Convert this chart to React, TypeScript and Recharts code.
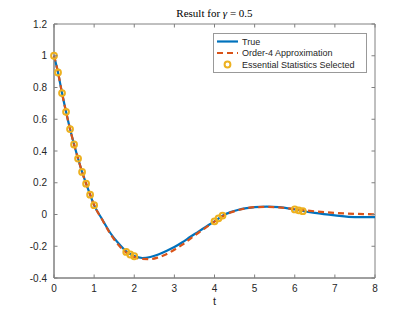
import React from 'react'
import { ComposedChart, Line, Scatter, XAxis, YAxis, ReferenceArea } from 'recharts'

// sample times and values
const trueT = [0, 0.1, 0.2, 0.3, 0.4, 0.5, 0.6, 0.7, 0.8, 0.9, 1.0, 1.2, 1.4, 1.6, 1.8, 2.0, 2.2, 2.4, 2.6, 2.8, 3.0, 3.2, 3.4, 3.6, 3.8, 4.0, 4.2, 4.4, 4.6, 4.8, 5.0, 5.3, 5.6, 6.0, 6.2, 6.5, 7.0, 7.5, 8.0]
const trueY = [1.0, 0.895, 0.765, 0.647, 0.538, 0.441, 0.352, 0.268, 0.194, 0.125, 0.059, -0.03, -0.115, -0.18, -0.232, -0.262, -0.274, -0.268, -0.252, -0.23, -0.205, -0.175, -0.14, -0.108, -0.075, -0.043, -0.008, 0.015, 0.03, 0.04, 0.047, 0.05, 0.047, 0.032, 0.022, 0.01, -0.005, -0.016, -0.017]
const approxY = [1.0, 0.895, 0.765, 0.647, 0.538, 0.441, 0.352, 0.268, 0.194, 0.125, 0.059, -0.032, -0.12, -0.19, -0.24, -0.268, -0.28, -0.281, -0.27, -0.25, -0.222, -0.19, -0.152, -0.115, -0.08, -0.045, -0.012, 0.012, 0.028, 0.04, 0.046, 0.048, 0.045, 0.034, 0.028, 0.02, 0.01, 0.004, 0.001]

const selT = [0, 0.1, 0.2, 0.3, 0.4, 0.5, 0.6, 0.7, 0.8, 0.9, 1.0, 1.8, 1.9, 2.0, 4.0, 4.1, 4.2, 6.0, 6.1, 6.2]
const selY = [1.0, 0.895, 0.765, 0.647, 0.538, 0.441, 0.352, 0.268, 0.194, 0.125, 0.059, -0.236, -0.252, -0.263, -0.043, -0.024, -0.007, 0.032, 0.026, 0.021]

const xTicks = [0, 1, 2, 3, 4, 5, 6, 7, 8]
const yTicks = [-0.4, -0.2, 0, 0.2, 0.4, 0.6, 0.8, 1, 1.2]

const trueData = trueT.map((t, i) => ({ t, y: trueY[i] }))
const approxData = trueT.map((t, i) => ({ t, y: approxY[i] }))
const selData = selT.map((t, i) => ({ t, y: selY[i] }))

const BLUE = '#0072BD'
const RED = '#D95319'
const GOLD = '#EDB120'
const AXIS = '#808080'
const LABEL = '#262626'
const SANS = '"Liberation Sans", Arial, sans-serif'
const TICK = 3.5

const fmt = (v: number) => String(Math.round(v * 10) / 10)

const BottomTick = (p: any) => (
  <g>
    <line x1={p.x} x2={p.x} y1={p.y} y2={p.y - TICK} stroke={AXIS} />
    <text x={p.x} y={p.y + 14} textAnchor="middle" fontSize={10} fontFamily={SANS} fill={LABEL}>
      {fmt(p.payload.value)}
    </text>
  </g>
)
const LeftTick = (p: any) => (
  <g>
    <line x1={p.x} x2={p.x + TICK} y1={p.y} y2={p.y} stroke={AXIS} />
    <text x={p.x - 7} y={p.y + 3.5} textAnchor="end" fontSize={10} fontFamily={SANS} fill={LABEL}>
      {fmt(p.payload.value)}
    </text>
  </g>
)
// mirrored ticks on the top and right edges, drawn from the same scale
const TopTick = (p: any) => <line x1={p.x} x2={p.x} y1={24} y2={24 + TICK} stroke={AXIS} />
const RightTick = (p: any) => <line x1={375} x2={375 - TICK} y1={p.y} y2={p.y} stroke={AXIS} />

const BottomMirror = (p: any) => (
  <g>
    <BottomTick {...p} />
    <TopTick {...p} />
  </g>
)
const LeftMirror = (p: any) => (
  <g>
    <LeftTick {...p} />
    <RightTick {...p} />
  </g>
)

const Ring = (p: any) => <circle cx={p.cx} cy={p.cy} r={2.9} fill="none" stroke={GOLD} strokeWidth={2} />

const legendRows = [
  { label: 'True', kind: 'solid' },
  { label: 'Order-4 Approximation', kind: 'dash' },
  { label: 'Essential Statistics Selected', kind: 'ring' },
]

const LegendBox = () => (
  <div
    style={{
      position: 'absolute',
      left: 213,
      top: 33,
      width: 152,
      height: 38,
      border: '1px solid #999',
      background: '#fff',
    }}
  >
    <svg width={152} height={38} style={{ position: 'absolute', left: 0, top: 0 }}>
      {legendRows.map((r, i) => {
        const y = 7.5 + i * 11.5
        return (
          <g key={r.label}>
            {r.kind === 'solid' && <line x1={3} x2={24} y1={y} y2={y} stroke={BLUE} strokeWidth={2.2} />}
            {r.kind === 'dash' && (
              <line x1={3} x2={24} y1={y} y2={y} stroke={RED} strokeWidth={2.2} strokeDasharray="6 4" />
            )}
            {r.kind === 'ring' && <circle cx={13.5} cy={y} r={2.9} fill="none" stroke={GOLD} strokeWidth={2} />}
            <text x={28} y={y + 3.2} fontSize={9} fontFamily={SANS} fill={LABEL}>
              {r.label}
            </text>
          </g>
        )
      })}
    </svg>
  </div>
)

export default function App() {
  return (
    <div style={{ position: 'absolute', left: 0, top: 0, width: 415, height: 312, background: '#fff' }}>
      <div
        style={{
          position: 'absolute',
          left: 54,
          width: 321,
          top: 7,
          textAlign: 'center',
          fontFamily: '"Liberation Serif", serif',
          fontSize: 11,
          fontWeight: 400,
          color: '#000',
        }}
      >
        Result for <i>γ</i> = 0.5
      </div>
      <ComposedChart width={415} height={312} margin={{ top: 24, right: 40, bottom: 14, left: 24 }}>
        <ReferenceArea x1={0} x2={8} y1={-0.4} y2={1.2} fill="none" stroke={AXIS} strokeWidth={1} ifOverflow="visible" />
        <XAxis
          dataKey="t"
          type="number"
          domain={[0, 8]}
          ticks={xTicks}
          interval={0}
          height={20}
          stroke={AXIS}
          tickSize={0}
          tickMargin={0}
          tick={<BottomMirror />}
        />
        <YAxis
          type="number"
          domain={[-0.4, 1.2]}
          ticks={yTicks}
          interval={0}
          width={30}
          stroke={AXIS}
          tickSize={0}
          tickMargin={0}
          tick={<LeftMirror />}
        />
        <Line
          data={trueData}
          dataKey="y"
          type="monotone"
          stroke={BLUE}
          strokeWidth={2.2}
          dot={false}
          isAnimationActive={false}
        />
        <Line
          data={approxData}
          dataKey="y"
          type="monotone"
          stroke={RED}
          strokeWidth={2.2}
          strokeDasharray="6 4"
          dot={false}
          isAnimationActive={false}
        />
        <Scatter data={selData} dataKey="y" shape={<Ring />} isAnimationActive={false} />
      </ComposedChart>
      <LegendBox />
      <div
        style={{
          position: 'absolute',
          left: 54,
          width: 321,
          top: 295,
          textAlign: 'center',
          fontFamily: SANS,
          fontSize: 11,
          color: LABEL,
        }}
      >
        t
      </div>
    </div>
  )
}
